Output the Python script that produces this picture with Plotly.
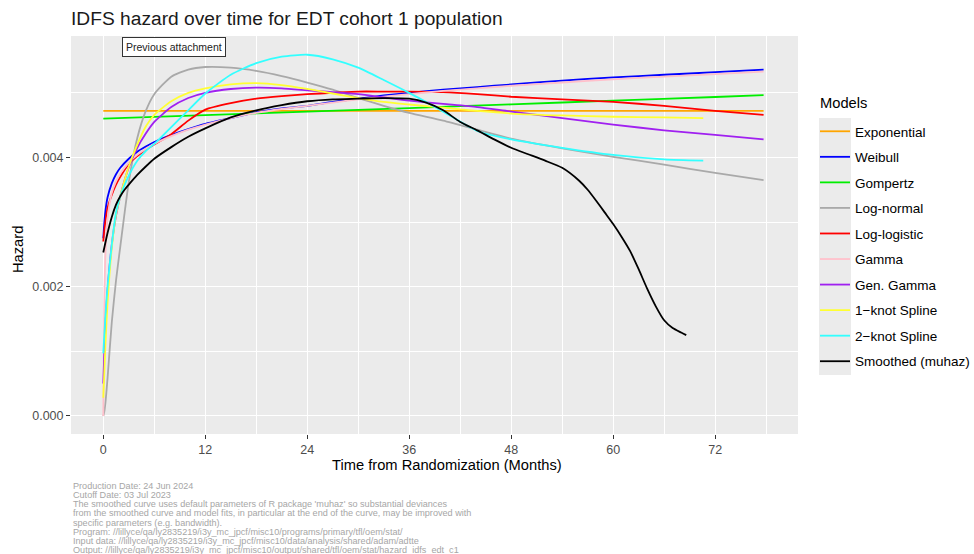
import plotly.graph_objects as go

# ---------------------------------------------------------------- data
# Hazard estimates (per month) by months from randomization.
months_fit = [0, 0.1, 0.25, 0.5, 1, 1.5, 2, 3, 4, 5, 6, 8, 10, 12, 15, 18,
              21, 24, 27, 30, 33, 36, 40, 44, 48, 54, 60, 66, 72, 77.7]
months_spline = [0, 0.1, 0.25, 0.5, 1, 1.5, 2, 3, 4, 5, 6, 8, 10, 12, 15, 18,
                 21, 24, 27, 30, 33, 36, 40, 44, 48, 54, 60, 66, 70.6]
months_exp = [0, 77.7]
months_gompertz = [0, 12, 24, 36, 48, 60, 72, 77.7]
months_muhaz = [0, 0.5, 1, 1.5, 2, 2.5, 3, 4, 5, 6, 8, 10, 12, 15, 18, 21, 24,
                27, 30, 33, 36, 38, 40, 42, 44, 46, 48, 50, 52, 54, 56, 57, 58,
                59, 60, 61, 62, 63, 64, 65, 66, 67, 68, 68.6]

haz_exponential = [0.00472, 0.00472]
haz_gompertz = [0.00460, 0.004654, 0.004709, 0.004765, 0.004822, 0.004879,
                0.004936, 0.004965]
haz_weibull = [0.00275, 0.00295, 0.00317, 0.00338, 0.00360, 0.00374, 0.00384,
               0.00398, 0.00409, 0.00417, 0.00424, 0.00435, 0.00444, 0.00452,
               0.00461, 0.00470, 0.00476, 0.00480, 0.00486, 0.00491, 0.00496,
               0.00500, 0.00505, 0.00509, 0.00513, 0.00519, 0.00524, 0.00528,
               0.00532, 0.00536]
haz_lognormal = [0.0, 0.00005, 0.00020, 0.00058, 0.00145, 0.00210, 0.00262,
                 0.00362, 0.00430, 0.00472, 0.00498, 0.00525, 0.00536, 0.00540,
                 0.00539, 0.00534, 0.00526, 0.00516, 0.00505, 0.00492, 0.00480,
                 0.00469, 0.00457, 0.00443, 0.00429, 0.00414, 0.00401, 0.00389,
                 0.00376, 0.00365]
haz_loglogistic = [0.00270, 0.00285, 0.00302, 0.00322, 0.00342, 0.00358,
                   0.00370, 0.00390, 0.00402, 0.00412, 0.00420, 0.00436,
                   0.00457, 0.00474, 0.00484, 0.00491, 0.00495, 0.00498,
                   0.00500, 0.00502, 0.00502, 0.00502, 0.00501, 0.00498,
                   0.00494, 0.00490, 0.00486, 0.00480, 0.00472, 0.00466]
haz_gamma = [0.0, 0.00160, 0.00250, 0.00305, 0.00345, 0.00363, 0.00375,
             0.00392, 0.00404, 0.00413, 0.00421, 0.00433, 0.00443, 0.00451,
             0.00461, 0.00469, 0.00475, 0.00480, 0.00485, 0.00490, 0.00494,
             0.00498, 0.00503, 0.00507, 0.00511, 0.00516, 0.00521, 0.00525,
             0.00529, 0.00533]
haz_gengamma = [0.00050, 0.00090, 0.00140, 0.00195, 0.00265, 0.00310,
                0.00340, 0.00385, 0.00415, 0.00437, 0.00455, 0.00478,
                0.00492, 0.00500, 0.00506, 0.00508, 0.00507, 0.00504,
                0.00501, 0.00498, 0.00493, 0.00488, 0.00483, 0.00478,
                0.00471, 0.00461, 0.00451, 0.00442, 0.00435, 0.00428]
haz_spline1 = [0.00028, 0.00060, 0.00110, 0.00175, 0.00260, 0.00312, 0.00340,
               0.00386, 0.00420, 0.00448, 0.00466, 0.00487, 0.00500, 0.00507,
               0.00513, 0.00515, 0.00512, 0.00506, 0.00499, 0.00492, 0.00486,
               0.00482, 0.00477, 0.00472, 0.00468, 0.00465, 0.00463, 0.00462,
               0.00461]
haz_spline2 = [0.00097, 0.00120, 0.00155, 0.00200, 0.00265, 0.00315, 0.00340,
               0.00372, 0.00395, 0.00410, 0.00421, 0.00447, 0.00473, 0.00499,
               0.00528, 0.00546, 0.00556, 0.00559, 0.00552, 0.00539, 0.00520,
               0.00500, 0.00471, 0.00441, 0.00428, 0.00415, 0.00404, 0.00397,
               0.00395]
haz_muhaz = [0.00253, 0.00283, 0.00308, 0.00327, 0.00340, 0.00350, 0.00358,
             0.00373, 0.00386, 0.00398, 0.00416, 0.00432, 0.00445, 0.00462,
             0.00473, 0.00481, 0.00487, 0.00490, 0.00491, 0.00492, 0.00491,
             0.00485, 0.00473, 0.00455, 0.00442, 0.00428, 0.00415, 0.00405,
             0.00395, 0.00384, 0.00364, 0.00350, 0.00333, 0.00315, 0.00297,
             0.00277, 0.00255, 0.00227, 0.00197, 0.00170, 0.00148, 0.00136,
             0.00129, 0.00125]

model_names = ["Exponential", "Weibull", "Gompertz", "Log-normal",
               "Log-logistic", "Gamma", "Gen. Gamma", "1\u2212knot Spline",
               "2\u2212knot Spline", "Smoothed (muhaz)"]
model_colors = ["#FFA500", "#0000FF", "#00EE00", "#A9A9A9", "#FF0000",
                "#FFC0CB", "#A020F0", "#FFFF33", "#33FFFF", "#000000"]
model_series = [
    (months_exp, haz_exponential),
    (months_fit, haz_weibull),
    (months_gompertz, haz_gompertz),
    (months_fit, haz_lognormal),
    (months_fit, haz_loglogistic),
    (months_fit, haz_gamma),
    (months_fit, haz_gengamma),
    (months_spline, haz_spline1),
    (months_spline, haz_spline2),
    (months_muhaz, haz_muhaz),
]

x_ticks = [0, 12, 24, 36, 48, 60, 72]
y_ticks = [0.000, 0.002, 0.004]
y_tick_text = ["0.000", "0.002", "0.004"]

footnotes = [
    "Production Date: 24 Jun 2024",
    "Cutoff Date: 03 Jul 2023",
    "The smoothed curve uses default parameters of R package 'muhaz' so substantial deviances",
    "from the smoothed curve and model fits, in particular at the end of the curve, may be improved with",
    "specific parameters (e.g. bandwidth).",
    "Program: //lillyce/qa/ly2835219/i3y_mc_jpcf/misc10/programs/primary/tfl/oem/stat/",
    "Input data: //lillyce/qa/ly2835219/i3y_mc_jpcf/misc10/data/analysis/shared/adam/adtte",
    "Output: //lillyce/qa/ly2835219/i3y_mc_jpcf/misc10/output/shared/tfl/oem/stat/hazard_idfs_edt_c1",
]

# ---------------------------------------------------------------- layout geometry (pixels)
W, H = 974, 554
L, R, T, B = 71, 176, 36, 120
PW, PH = W - L - R, H - T - B
FONT = "Liberation Sans, Arial, sans-serif"


def px_x(px):
    return (px - L) / PW


def px_y(py):
    return (H - B - py) / PH


fig = go.Figure()
for i, (name, color, (xs, ys)) in enumerate(zip(model_names, model_colors, model_series)):
    fig.add_trace(go.Scatter(
        x=xs, y=ys, mode="lines", name=name, legendgroup=f"g{i}",
        line=dict(color=color, width=1.8, shape="spline", smoothing=0.6),
        hoverinfo="skip",
    ))

axis_common = dict(
    showline=False, zeroline=False, gridcolor="white", gridwidth=1.3,
    ticks="outside", ticklen=4, tickwidth=1.1, tickcolor="#333333",
    tickfont=dict(family=FONT, size=12.5, color="#4D4D4D"),
)
fig.update_xaxes(range=[-3.8, 81.75], tickvals=x_ticks,
                 minor=dict(tick0=0, dtick=6, showgrid=True,
                            gridcolor="white", gridwidth=0.6),
                 **axis_common)
fig.update_yaxes(range=[-0.00028, 0.00588], tickvals=y_ticks,
                 ticktext=y_tick_text,
                 minor=dict(tick0=0, dtick=0.001, showgrid=True,
                            gridcolor="white", gridwidth=0.6),
                 **axis_common)


def note(text, x, y, size, color="#000000", **kw):
    base = dict(text=text, x=px_x(x), y=px_y(y), xref="paper", yref="paper",
                xanchor="center", yanchor="middle", showarrow=False,
                font=dict(family=FONT, size=size, color=color))
    base.update(kw)
    return base


annotations = [
    note("Time from Randomization (Months)", 447, 465, 14.7),
    note("Hazard", 18, 250, 14.7, textangle=-90),
    note("Models", 843, 103, 14.7),
    note("Previous attachment", 174, 47, 10.5, color="#222222",
         bgcolor="white", bordercolor="#333333", borderwidth=1, borderpad=3),
]
for k, line in enumerate(footnotes):
    annotations.append(note(line, 71, 485.7 + 9.2 * k, 9.1,
                            color="#A6A6A6", xanchor="left"))

fig.update_layout(
    width=W, height=H,
    margin=dict(l=L, r=R, t=T, b=B, pad=0, autoexpand=False),
    paper_bgcolor="white", plot_bgcolor="#EBEBEB",
    title=dict(text="IDFS hazard over time for EDT cohort 1 population",
               x=71 / W, xref="container", xanchor="left",
               y=1 - 18 / H, yanchor="middle",
               font=dict(family=FONT, size=19.2, color="#1A1A1A")),
    showlegend=True,
    legend=dict(
        x=px_x(815), y=px_y(116), xanchor="left", yanchor="top",
        bgcolor="rgba(0,0,0,0)", tracegroupgap=5,
        font=dict(family=FONT, size=13.5, color="#000000"),
    ),
    shapes=[dict(type="rect", xref="paper", yref="paper",
                 x0=px_x(819), x1=px_x(851), y0=px_y(375), y1=px_y(118),
                 fillcolor="#EBEBEB", line=dict(width=0), layer="below")],
    annotations=annotations,
)

fig.write_html("out.html")
